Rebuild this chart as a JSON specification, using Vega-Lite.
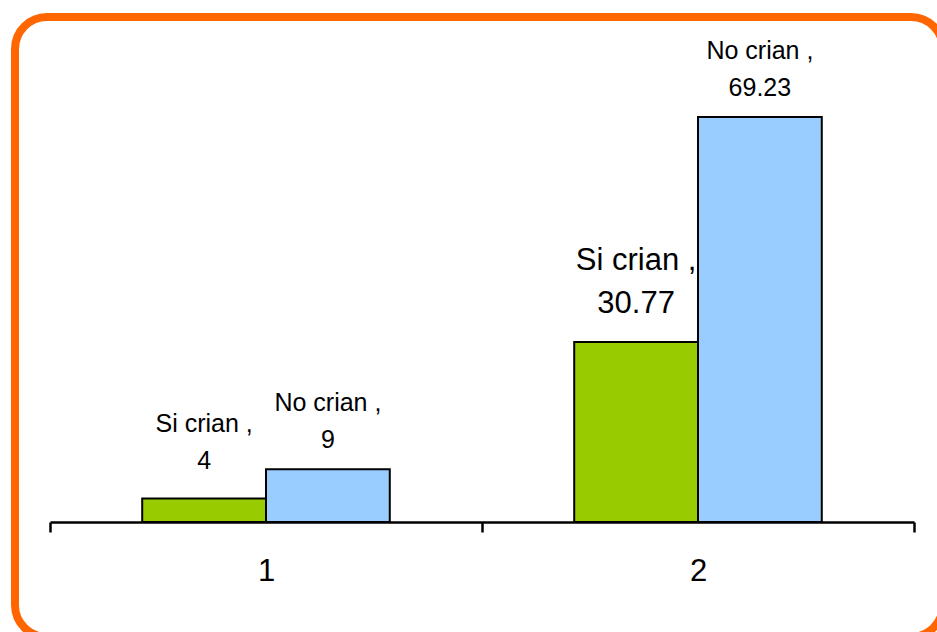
{
  "$schema": "https://vega.github.io/schema/vega-lite/v6.json",
  "autosize": {"type": "none"},
  "padding": {"left": 15, "top": 17, "right": -6, "bottom": -5},
  "width": 928,
  "height": 620,
  "background": "white",
  "config": {
    "view": {"stroke": "#FF6600", "strokeWidth": 8, "cornerRadius": 32, "fill": "white"},
    "font": "Liberation Sans"
  },
  "data": {
    "values": [
      {"group": "1", "series": "Si crian", "value": 4, "label": "Si crian ,\n4"},
      {"group": "1", "series": "No crian", "value": 9, "label": "No crian ,\n9"},
      {"group": "2", "series": "Si crian", "value": 30.77, "label": "Si crian ,\n30.77"},
      {"group": "2", "series": "No crian", "value": 69.23, "label": "No crian ,\n69.23"}
    ]
  },
  "encoding": {
    "x": {
      "field": "group",
      "type": "nominal",
      "scale": {"range": [35, 899], "paddingInner": 0, "paddingOuter": 0},
      "axis": {
        "title": null,
        "orient": "bottom",
        "offset": -115,
        "labelAngle": 0,
        "domainColor": "black",
        "domainWidth": 2.5,
        "tickColor": "black",
        "tickWidth": 2.5,
        "tickSize": 10,
        "tickBand": "extent",
        "labelFontSize": 31,
        "labelColor": "black",
        "labelPadding": 24,
        "labelFont": "Liberation Sans",
        "grid": false
      }
    },
    "xOffset": {
      "field": "series",
      "type": "nominal",
      "sort": ["Si crian", "No crian"],
      "scale": {"paddingInner": 0, "paddingOuter": 0.745}
    },
    "y": {
      "field": "value",
      "type": "quantitative",
      "scale": {"domain": [0, 86.3], "range": [505, 0], "nice": false, "zero": true},
      "axis": null
    }
  },
  "layer": [
    {
      "mark": {"type": "bar", "stroke": "black", "strokeWidth": 2},
      "encoding": {
        "color": {
          "field": "series",
          "type": "nominal",
          "scale": {"domain": ["Si crian", "No crian"], "range": ["#99CC00", "#99CCFF"]},
          "legend": null
        }
      }
    },
    {
      "transform": [{"filter": "datum.series == 'Si crian' && datum.group == '1'"}],
      "mark": {"type": "text", "baseline": "bottom", "lineBreak": "\n", "fontSize": 25, "lineHeight": 37, "dy": -62, "color": "black"},
      "encoding": {"text": {"field": "label", "type": "nominal"}}
    },
    {
      "transform": [{"filter": "datum.series == 'Si crian' && datum.group == '2'"}],
      "mark": {"type": "text", "baseline": "bottom", "lineBreak": "\n", "fontSize": 31, "lineHeight": 43, "dy": -65, "color": "black"},
      "encoding": {"text": {"field": "label", "type": "nominal"}}
    },
    {
      "transform": [{"filter": "datum.series == 'No crian'"}],
      "mark": {"type": "text", "baseline": "bottom", "lineBreak": "\n", "fontSize": 25, "lineHeight": 37, "dy": -53, "color": "black"},
      "encoding": {"text": {"field": "label", "type": "nominal"}}
    }
  ]
}
